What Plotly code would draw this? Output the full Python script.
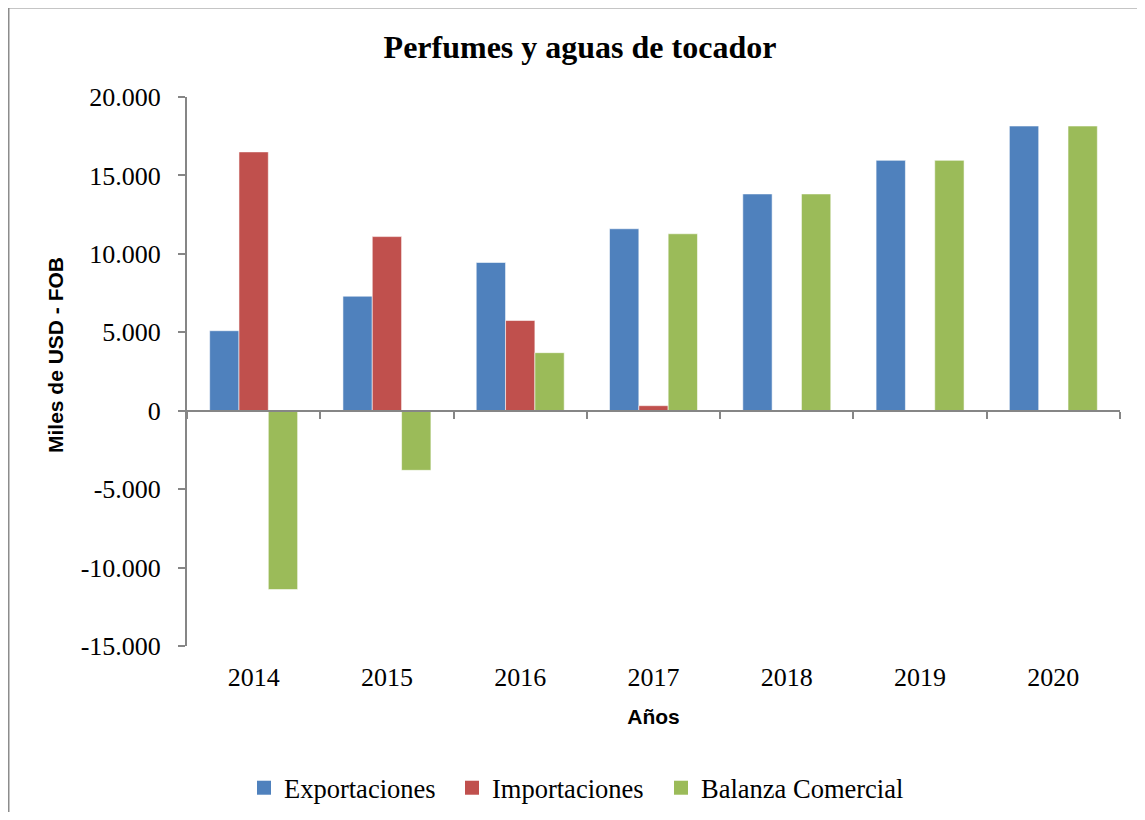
import plotly.graph_objects as go

years = ["2014", "2015", "2016", "2017", "2018", "2019", "2020"]
exportaciones = [5100, 7300, 9450, 11600, 13820, 15960, 18150]
importaciones = [16500, 11100, 5750, 320, 0, 0, 0]
balanza = [-11400, -3800, 3700, 11280, 13820, 15960, 18150]

y_tickvals = [-15000, -10000, -5000, 0, 5000, 10000, 15000, 20000]
y_ticktext = ["-15.000", "-10.000", "-5.000", "0", "5.000", "10.000", "15.000", "20.000"]

title_text = "Perfumes y aguas de tocador"
x_title = "Años"
y_title = "Miles de USD - FOB"

serif = "Liberation Serif, Times New Roman, serif"
sans = "Liberation Sans, Arial, sans-serif"

# page offset of the plot div (browser body margin)
OFF = 8
W, H = 1145 - 2 * OFF, 820 - 2 * OFF
L, T, PW, PH = 187 - OFF, 97 - OFF, 933, 549


def px_x(page_x):
    return (page_x - 187) / PW


def px_y(page_y):
    return (646 - page_y) / PH


fig = go.Figure()
series = [
    ("Exportaciones", exportaciones, "#4F81BD", "legend", 244),
    ("Importaciones", importaciones, "#C0504D", "legend2", 452),
    ("Balanza Comercial", balanza, "#9BBB59", "legend3", 661),
]
for name, vals, col, lg, lx in series:
    fig.add_trace(go.Bar(
        x=years, y=vals, name=name, showlegend=False,
        marker=dict(color=col, line=dict(color="rgba(255,255,255,0.55)", width=1)),
    ))
for name, vals, col, lg, lx in series:
    fig.add_trace(go.Scatter(
        x=[None], y=[None], name=name, mode="markers", legend=lg,
        marker=dict(symbol="square", size=14, color=col), hoverinfo="skip",
    ))

# helper trace for the axis line drawn at zero
fig.add_trace(go.Scatter(x=years, y=[None] * len(years), xaxis="x2",
                         showlegend=False, hoverinfo="skip", mode="lines"))

legend_common = dict(orientation="h", xanchor="left", yanchor="middle",
                     y=px_y(788), itemwidth=30,
                     font=dict(family=serif, size=26.5, color="black"),
                     bgcolor="rgba(0,0,0,0)")
legends = {}
for name, vals, col, lg, lx in series:
    legends[lg] = dict(legend_common, x=px_x(lx))

frame_line = dict(color="#8c8c8c", width=2)

fig.update_layout(
    width=W, height=H,
    margin=dict(l=L, r=W - L - PW, t=T, b=H - T - PH, autoexpand=False),
    paper_bgcolor="white", plot_bgcolor="white",
    barmode="group", bargap=0.34, bargroupgap=0,
    title=dict(text="<b>" + title_text + "</b>", x=(580 - OFF) / W, xanchor="center",
               y=1 - (47 - OFF) / H, yanchor="middle",
               font=dict(family=serif, size=32, color="black")),
    xaxis=dict(
        type="category", categoryorder="array", categoryarray=years,
        showline=False, ticks="", showgrid=False, zeroline=False,
        tickfont=dict(family=serif, size=26, color="black"),
        ticklabelstandoff=13, automargin=False,
        title=dict(text="<b>" + x_title + "</b>", standoff=18,
                   font=dict(family=sans, size=21, color="black")),
    ),
    xaxis2=dict(
        type="category", categoryorder="array", categoryarray=years,
        overlaying="x", anchor="free", position=px_y(411), side="bottom",
        showline=True, linecolor="#868686", linewidth=2,
        ticks="outside", tickson="boundaries", ticklen=7, tickwidth=2,
        tickcolor="#868686", showticklabels=False, showgrid=False,
        range=[-0.5, 6.5],
    ),
    yaxis=dict(
        range=[-15000, 20000], tickvals=y_tickvals, ticktext=y_ticktext,
        showgrid=False, zeroline=False,
        showline=True, linecolor="#868686", linewidth=2,
        ticks="outside", ticklen=7, tickwidth=2, tickcolor="#868686",
        tickfont=dict(family=serif, size=26, color="black"),
        ticklabelstandoff=12, automargin=False,
    ),
    annotations=[dict(
        text="<b>" + y_title + "</b>", textangle=-90, showarrow=False,
        xref="paper", yref="paper", x=px_x(55), y=px_y(355),
        xanchor="center", yanchor="middle",
        font=dict(family=sans, size=21, color="black"),
    )],
    shapes=[
        dict(type="line", xref="paper", yref="paper",
             x0=px_x(8.5), x1=px_x(1160), y0=px_y(7.5), y1=px_y(7.5),
             line=frame_line, layer="below"),
        dict(type="line", xref="paper", yref="paper",
             x0=px_x(8.5), x1=px_x(8.5), y0=px_y(7.5), y1=px_y(840),
             line=frame_line, layer="below"),
    ],
    **legends,
)

fig.write_html("out.html")
